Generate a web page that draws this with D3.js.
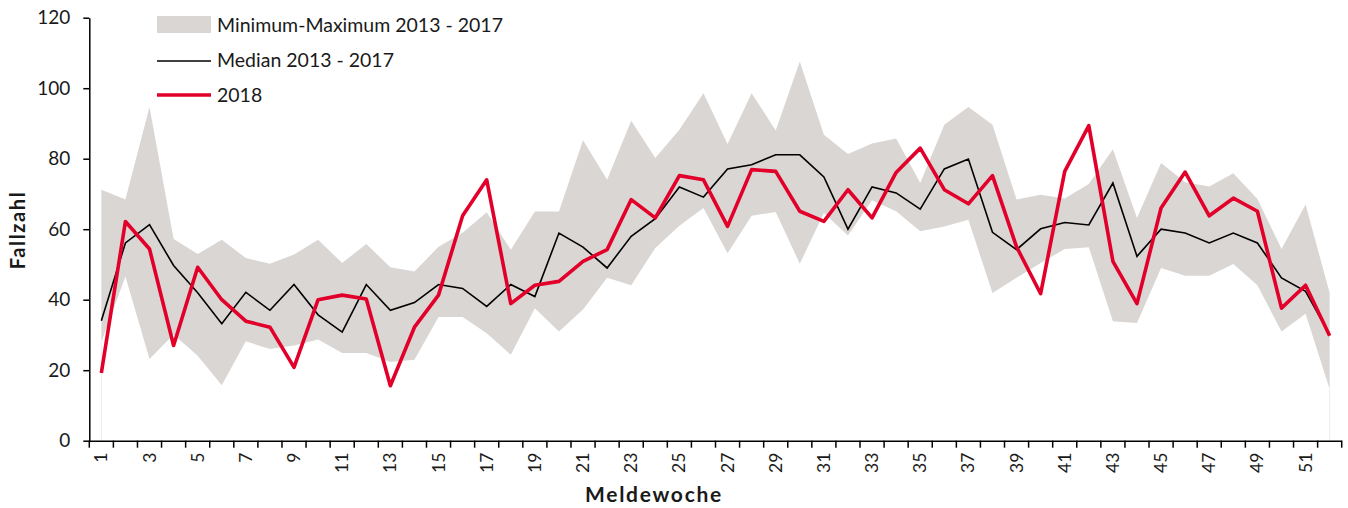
<!DOCTYPE html>
<html>
<head>
<meta charset="utf-8">
<script src="https://cdn.jsdelivr.net/npm/d3@7"></script>
<style>
  html, body { margin: 0; padding: 0; background: #fff; }
  svg { display: block; font-family: "Lato", "Open Sans", sans-serif; }
</style>
</head>
<body>
<svg id="chart" width="1348" height="508"></svg>
<script>
const weeks = d3.range(1, 53);
const maxValues = [71.2, 68.4, 94.7, 57.2, 53.0, 57.0, 51.8, 50.2, 52.8, 57.0, 50.4, 55.8, 49.2, 48.0, 55.0, 59.0, 64.8, 54.2, 65.0, 65.0, 85.2, 74.0, 90.8, 80.2, 88.2, 98.6, 84.2, 98.6, 88.0, 107.6, 86.8, 81.3, 84.3, 85.7, 73.1, 89.6, 94.7, 89.6, 68.4, 69.8, 68.7, 72.8, 82.7, 63.2, 78.8, 73.3, 72.1, 75.9, 68.6, 54.4, 67.0, 41.9];
const minValues = [28.0, 46.6, 23.2, 30.1, 24.1, 15.7, 28.2, 26.0, 27.0, 28.7, 24.9, 24.9, 22.3, 23.0, 35.1, 35.1, 30.5, 24.4, 37.6, 31.0, 37.2, 46.2, 44.1, 54.7, 61.0, 66.0, 53.2, 63.8, 64.9, 50.2, 64.6, 58.2, 68.2, 65.1, 59.4, 60.8, 62.7, 41.9, 46.2, 50.4, 54.4, 54.9, 33.9, 33.4, 49.0, 46.8, 46.8, 50.1, 44.1, 31.0, 36.0, 14.7];
const medianValues = [34.0, 56.1, 61.3, 49.7, 42.0, 33.2, 42.1, 37.0, 44.3, 35.7, 30.8, 44.3, 37.0, 39.2, 44.3, 43.2, 38.1, 44.3, 40.9, 58.9, 54.9, 49.0, 58.0, 63.0, 72.0, 69.1, 77.1, 78.3, 81.1, 81.1, 74.8, 60.0, 72.0, 70.3, 65.7, 77.1, 79.9, 59.1, 54.2, 60.1, 61.9, 61.2, 73.1, 52.3, 60.0, 58.9, 56.1, 58.9, 56.1, 46.2, 42.4, 30.0];
const values2018 = [19.2, 62.2, 54.4, 27.0, 49.2, 40.0, 33.9, 32.2, 20.8, 40.0, 41.3, 40.2, 15.6, 32.2, 41.3, 63.8, 74.0, 38.9, 44.1, 45.2, 50.9, 54.2, 68.4, 63.2, 75.2, 74.0, 60.8, 76.9, 76.4, 65.1, 62.2, 71.2, 63.2, 76.1, 83.0, 71.2, 67.2, 75.2, 55.0, 41.7, 76.4, 89.4, 50.9, 38.9, 66.0, 76.2, 63.8, 68.8, 65.1, 37.6, 44.1, 29.8];
const yTicks = [0, 20, 40, 60, 80, 100, 120];
const legendLabels = ["Minimum-Maximum 2013 - 2017", "Median 2013 - 2017", "2018"];
const xTitle = "Meldewoche";
const yTitle = "Fallzahl";

(function () {
const colors = { band: "#d9d6d4", median: "#000000", current: "#e2002a", axis: "#000", text: "#1a1a1a" };

const svg = d3.select("#chart");
const mLeft = 89.3, mRight = 1341.7, mTop = 17.7, mBottom = 440.7;

const x = d3.scaleBand().domain(weeks).range([mLeft, mRight]).paddingInner(0).paddingOuter(0);
const xc = w => x(w) + x.bandwidth() / 2;
const y = d3.scaleLinear().domain([0, 120]).range([mBottom, mTop]);

const data = weeks.map((w, i) => ({ w, min: minValues[i], max: maxValues[i], med: medianValues[i], cur: values2018[i] }));

// band
svg.append("path")
  .datum(data)
  .attr("fill", colors.band)
  .attr("d", d3.area().x(d => xc(d.w)).y0(d => y(d.min)).y1(d => y(d.max)));

// faint edges down to zero at first/last week
[data[0], data[data.length - 1]].forEach(d => {
  svg.append("line")
    .attr("x1", xc(d.w)).attr("x2", xc(d.w))
    .attr("y1", y(0)).attr("y2", y(d.min))
    .attr("stroke", "#ececec").attr("stroke-width", 1);
});

// median
svg.append("path")
  .datum(data)
  .attr("fill", "none").attr("stroke", colors.median).attr("stroke-width", 1.6)
  .attr("stroke-linejoin", "miter")
  .attr("d", d3.line().x(d => xc(d.w)).y(d => y(d.med)));

// 2018
svg.append("path")
  .datum(data)
  .attr("fill", "none").attr("stroke", colors.current).attr("stroke-width", 3.6)
  .attr("stroke-linejoin", "round")
  .attr("d", d3.line().x(d => xc(d.w)).y(d => y(d.cur)));

// y axis
const yAxis = svg.append("g")
  .attr("transform", `translate(${mLeft},0)`)
  .call(d3.axisLeft(y).tickValues(yTicks).tickSize(6).tickPadding(13).tickSizeOuter(0));
yAxis.select(".domain").attr("stroke", colors.axis).attr("stroke-width", 1.5);
yAxis.selectAll(".tick line").attr("stroke", colors.axis).attr("stroke-width", 1.5);
yAxis.selectAll(".tick text")
  .attr("fill", colors.text).attr("font-size", 19).attr("font-family", "Lato, sans-serif");

// x axis
const xAxis = svg.append("g")
  .attr("transform", `translate(0,${mBottom})`)
  .call(d3.axisBottom(x).tickValues([]).tickSizeOuter(0));
xAxis.select(".domain").attr("stroke", colors.axis).attr("stroke-width", 1.5);
const bounds = weeks.map(w => x(w)).concat([mRight]);
xAxis.selectAll("line.btick")
  .data(bounds)
  .join("line").attr("class", "btick")
  .attr("x1", d => d).attr("x2", d => d)
  .attr("y1", 0).attr("y2", 7)
  .attr("stroke", colors.axis).attr("stroke-width", 1.5);
xAxis.selectAll("text.xl")
  .data(weeks.filter(w => w % 2 === 1))
  .join("text").attr("class", "xl")
  .attr("transform", d => `translate(${xc(d) + 6},${12}) rotate(-90)`)
  .attr("text-anchor", "end")
  .attr("fill", colors.text)
  .attr("font-size", 17.5).attr("font-family", "Lato, sans-serif")
  .text(d => d);

// axis titles
svg.append("text")
  .attr("transform", `translate(25,230) rotate(-90)`)
  .attr("text-anchor", "middle")
  .attr("font-weight", "bold").attr("font-size", 20).attr("letter-spacing", 1.6).attr("fill", colors.text)
  .text(yTitle);
svg.append("text")
  .attr("x", 654).attr("y", 502)
  .attr("text-anchor", "middle")
  .attr("font-weight", "bold").attr("font-size", 21).attr("letter-spacing", 1.7).attr("fill", colors.text)
  .text(xTitle);

// legend
const lg = svg.append("g");
lg.append("rect").attr("x", 157).attr("y", 16).attr("width", 54).attr("height", 17).attr("fill", colors.band);
lg.append("line").attr("x1", 157).attr("x2", 211).attr("y1", 61).attr("y2", 61).attr("stroke", colors.median).attr("stroke-width", 1.6);
lg.append("line").attr("x1", 157).attr("x2", 211).attr("y1", 95).attr("y2", 95).attr("stroke", colors.current).attr("stroke-width", 3.6);
const ly = [32, 67, 102];
legendLabels.forEach((t, i) => {
  lg.append("text").attr("x", 217).attr("y", ly[i])
    .attr("font-size", 19.5).attr("fill", colors.text).attr("font-family", "Lato, sans-serif")
    .text(t);
});
})();
</script>
</body>
</html>
